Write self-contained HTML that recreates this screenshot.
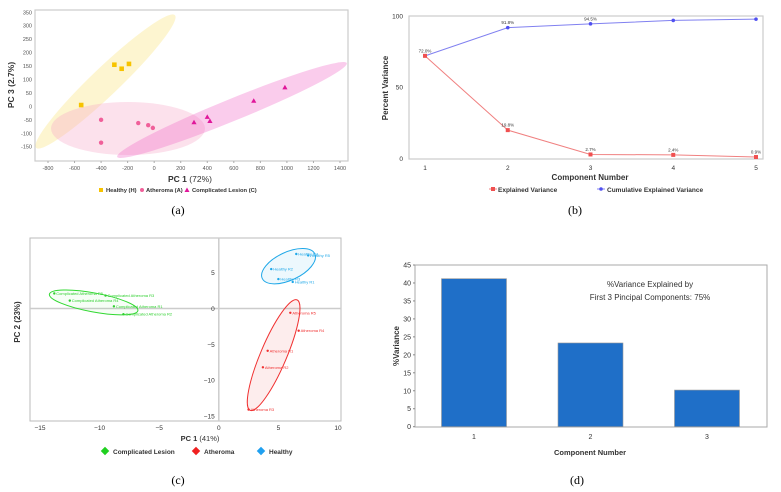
<!DOCTYPE html>
<html><head><meta charset="utf-8"><style>
body{margin:0;background:#fff;width:781px;height:492px;overflow:hidden}
svg{display:block;font-family:"Liberation Sans",sans-serif}
</style></head><body>
<svg id="s" width="781" height="492"></svg>
<script>
// Panel a data
const aHealthyX=[-550,-300,-245,-190], aHealthyY=[5,155,140,158];
const aAthX=[-400,-400,-120,-45,-10], aAthY=[-50,-135,-62,-70,-80];
const aCompX=[300,400,420,750,985], aCompY=[-60,-40,-55,20,70];
const aXTicks=[-800,-600,-400,-200,0,200,400,600,800,1000,1200,1400];
const aYTicks=[-150,-100,-50,0,50,100,150,200,250,300,350];
// Panel b data
const bComps=[1,2,3,4,5];
const bExplained=[72.0,19.8,2.7,2.4,0.9];
const bCumulative=[72.0,91.8,94.5,96.9,97.8];
const bYTicks=[0,50,100];
// Panel c data
const cGreenX=[-13.8,-9.5,-12.5,-8.8,-8.0], cGreenY=[2.1,1.8,1.1,0.3,-0.8];
const cGreenLab=["Complicated Atheroma R5","Complicated Atheroma R3","Complicated Atheroma R4","Complicated Atheroma R1","Complicated Atheroma R2"];
const cBlueX=[6.5,7.5,4.4,5.0,6.2], cBlueY=[7.6,7.4,5.5,4.1,3.7];
const cBlueLab=["Healthy R4","Healthy R5","Healthy R2","Healthy R3","Healthy R1"];
const cRedX=[6.0,6.7,4.1,3.7,2.5], cRedY=[-0.6,-3.1,-5.9,-8.2,-14.1];
const cRedLab=["Atheroma R5","Atheroma R4","Atheroma R1","Atheroma R2","Atheroma R3"];
const cXTicks=[-15,-10,-5,0,5,10], cYTicks=[-15,-10,-5,0,5];
// Panel d data
const dCats=["1","2","3"], dVals=[41.2,23.3,10.2];
const dYTicks=[0,5,10,15,20,25,30,35,40,45];

const S=document.getElementById('s');const NS='http://www.w3.org/2000/svg';
function el(t,a,txt){const e=document.createElementNS(NS,t);for(const k in a)e.setAttribute(k,a[k]);if(txt!=null)e.textContent=txt;S.appendChild(e);return e;}
function T(x,y,s,o){return el('text',Object.assign({x:x,y:y,'font-size':7,fill:'#333'},o||{}),s);}

// ---------- Panel a ----------
const ax=v=>48+(v+800)*292/2200, ay=v=>12.3+(350-v)*0.2688;
let e=el('rect',{x:35,y:10,width:313,height:151,fill:'#fff',stroke:'#ccc','stroke-width':1.2});

function ell(cx,cy,rx,ry,rot,fill,stroke,name){const e=el('ellipse',{cx:cx,cy:cy,rx:rx,ry:ry,transform:`rotate(${rot} ${cx} ${cy})`,fill:fill,stroke:stroke||'none'});}
ell(105.5,81.5,96,14,-43.7,'rgba(250,225,120,0.35)',null,'healthy-ellipse');
ell(128,128.5,77,26.5,0,'rgba(245,170,200,0.35)',null,'atheroma-ellipse');
ell(232,110,124,11,-22.2,'rgba(240,110,200,0.35)',null,'complicated-ellipse');
aXTicks.forEach(v=>{T(ax(v),170,v,{'text-anchor':'middle','font-size':5.5,fill:'#555'});el('line',{x1:ax(v),x2:ax(v),y1:161,y2:163,stroke:'#aaa'});});
aYTicks.forEach(v=>{T(32,ay(v)+2,v,{'text-anchor':'end','font-size':5.5,fill:'#555'});});
aHealthyX.forEach((v,i)=>{const e=el('rect',{x:ax(v)-2.3,y:ay(aHealthyY[i])-2.3,width:4.6,height:4.6,fill:'#f7c300'});});
aAthX.forEach((v,i)=>{const e=el('circle',{cx:ax(v),cy:ay(aAthY[i]),r:2.2,fill:'#f0609a'});});
aCompX.forEach((v,i)=>{const x=ax(v),y=ay(aCompY[i]);const e=el('polygon',{points:`${x},${y-2.8} ${x-2.6},${y+1.8} ${x+2.6},${y+1.8}`,fill:'#e0169a'});});
el('text',{x:14,y:85,'font-size':8.5,'font-weight':'bold',fill:'#333','text-anchor':'middle',transform:'rotate(-90 14 85)'},'PC 3 (2.7%)');
const pa=T(190,182,'',{'text-anchor':'middle','font-size':8.5,'font-weight':'bold'});pa.innerHTML='PC 1 <tspan font-weight="normal">(72%)</tspan>';
el('rect',{x:99,y:188,width:4,height:4,fill:'#f7c300'});T(106,192,'Healthy (H)',{'font-size':5.8,'font-weight':'bold'});
el('circle',{cx:142,cy:190,r:2,fill:'#f0609a'});T(146,192,'Atheroma (A)',{'font-size':5.8,'font-weight':'bold'});
el('polygon',{points:'187,187.5 184.5,192 189.5,192',fill:'#e0169a'});T(192,192,'Complicated Lesion (C)',{'font-size':5.8,'font-weight':'bold'});
T(178,214,'(a)',{'text-anchor':'middle','font-size':12,'font-family':'Liberation Serif',fill:'#000'});

// ---------- Panel b ----------
const bx=c=>425+(c-1)*(756-425)/4, by=v=>158.3-v*1.423;
el('rect',{x:409,y:16,width:354,height:143,fill:'#fff',stroke:'#ccc','stroke-width':1.2});
bYTicks.forEach(v=>T(403,by(v)+2.5,v,{'text-anchor':'end','font-size':6.5}));
bComps.forEach(c=>T(bx(c),170,c,{'text-anchor':'middle','font-size':6.5}));
el('polyline',{points:bComps.map((c,i)=>bx(c)+','+by(bCumulative[i])).join(' '),fill:'none',stroke:'#8080f0','stroke-width':1});
el('polyline',{points:bComps.map((c,i)=>bx(c)+','+by(bExplained[i])).join(' '),fill:'none',stroke:'#f08080','stroke-width':1});
bComps.forEach((c,i)=>{const e=el('circle',{cx:bx(c),cy:by(bCumulative[i]),r:1.8,fill:'#5050f0'});
 if(i==1||i==2)T(bx(c),by(bCumulative[i])-3.5,bCumulative[i].toFixed(1)+'%',{'text-anchor':'middle','font-size':4.5});});
bComps.forEach((c,i)=>{const e=el('rect',{x:bx(c)-2,y:by(bExplained[i])-2,width:4,height:4,fill:'#f05050'});
 T(bx(c),by(bExplained[i])-3.5,bExplained[i].toFixed(1)+'%',{'text-anchor':'middle','font-size':4.5});});
el('text',{x:388,y:88,'font-size':8,'font-weight':'bold',fill:'#333','text-anchor':'middle',transform:'rotate(-90 388 88)'},'Percent Variance');
T(590,180,'Component Number',{'text-anchor':'middle','font-size':8,'font-weight':'bold'});
el('line',{x1:489,x2:497,y1:189,y2:189,stroke:'#f08080'});el('rect',{x:491,y:187,width:4,height:4,fill:'#f05050'});T(498,192,'Explained Variance',{'font-size':6.5,'font-weight':'bold'});
el('line',{x1:597,x2:605,y1:189,y2:189,stroke:'#8080f0'});el('circle',{cx:601,cy:189,r:1.8,fill:'#5050f0'});T(607,192,'Cumulative Explained Variance',{'font-size':6.5,'font-weight':'bold'});
T(575,214,'(b)',{'text-anchor':'middle','font-size':12,'font-family':'Liberation Serif',fill:'#000'});

// ---------- Panel c ----------
const cx=v=>218.8+v*11.92, cy=v=>308.5-v*7.17;
el('rect',{x:30,y:238,width:311,height:183,fill:'#fff',stroke:'#bbb','stroke-width':1});
el('line',{x1:30,x2:341,y1:cy(0),y2:cy(0),stroke:'#ccc','stroke-width':1.5});
el('line',{x1:cx(0),x2:cx(0),y1:238,y2:421,stroke:'#ccc','stroke-width':1.5});
cXTicks.forEach(v=>T(cx(v),430,v<0?'\u2212'+(-v):v,{'text-anchor':'middle','font-size':6.5}));
cYTicks.forEach(v=>T(cx(0)-4,cy(v)+2.5,v<0?'\u2212'+(-v):v,{'text-anchor':'end','font-size':6.5}));
ell(cx(-10.5),cy(0.85),45,9.5,10.5,'rgba(80,230,80,0.05)','#30d830','green-ellipse');
ell(cx(5.85),cy(5.9),29,14,-25,'rgba(30,170,230,0.08)','#20a8e8','blue-ellipse');
ell(cx(4.6),cy(-6.5),60,13,-67,'rgba(240,80,80,0.1)','#f03030','red-ellipse');
function cpts(X,Y,L,col,name){X.forEach((v,i)=>{const e=el('circle',{cx:cx(v),cy:cy(Y[i]),r:1.2,fill:col});T(cx(v)+2,cy(Y[i])+1.5,L[i],{'font-size':4,fill:col});});}
cpts(cGreenX,cGreenY,cGreenLab,'#30d030','complicated-point');
cpts(cBlueX,cBlueY,cBlueLab,'#20a8e8','healthy-point');
cpts(cRedX,cRedY,cRedLab,'#f03030','atheroma-point');
el('text',{x:20,y:322,'font-size':8,'font-weight':'bold',fill:'#333','text-anchor':'middle',transform:'rotate(-90 20 322)'},'PC 2 (23%)');
const pc=T(200,441,'',{'text-anchor':'middle','font-size':7.5,'font-weight':'bold'});pc.innerHTML='PC 1 <tspan font-weight="normal">(41%)</tspan>';
[[105,'#20d020','Complicated Lesion'],[196,'#f02020','Atheroma'],[261,'#20a0f0','Healthy']].forEach(a=>{el('rect',{x:a[0]-3,y:448,width:6,height:6,fill:a[1],transform:`rotate(45 ${a[0]} 451)`});T(a[0]+8,454,a[2],{'font-size':6.5,'font-weight':'bold'});});
T(178,484,'(c)',{'text-anchor':'middle','font-size':12,'font-family':'Liberation Serif',fill:'#000'});

// ---------- Panel d ----------
const dx=i=>474+i*116.5, dy=v=>426.7-v*(161.7/45);
el('rect',{x:415,y:265,width:352,height:162,fill:'#fff',stroke:'#aaa','stroke-width':1});
dYTicks.forEach(v=>{T(411,dy(v)+2.5,v,{'text-anchor':'end','font-size':7});el('line',{x1:413,x2:415,y1:dy(v),y2:dy(v),stroke:'#888'});});
dVals.forEach((v,i)=>{const e=el('rect',{x:dx(i)-32.5,y:dy(v),width:65,height:dy(0)-dy(v),fill:'#1f6fc8',stroke:'#999','stroke-width':0.6});T(dx(i),439,dCats[i],{'text-anchor':'middle','font-size':7});});
T(650,287,'%Variance Explained by',{'text-anchor':'middle','font-size':8});
T(650,300,'First 3 Pincipal Components: 75%',{'text-anchor':'middle','font-size':8});
el('text',{x:399,y:346,'font-size':8,'font-weight':'bold',fill:'#333','text-anchor':'middle',transform:'rotate(-90 399 346)'},'%Variance');
T(590,455,'Component Number',{'text-anchor':'middle','font-size':7.5,'font-weight':'bold'});
T(577,484,'(d)',{'text-anchor':'middle','font-size':12,'font-family':'Liberation Serif',fill:'#000'});
</script>
</body></html>
